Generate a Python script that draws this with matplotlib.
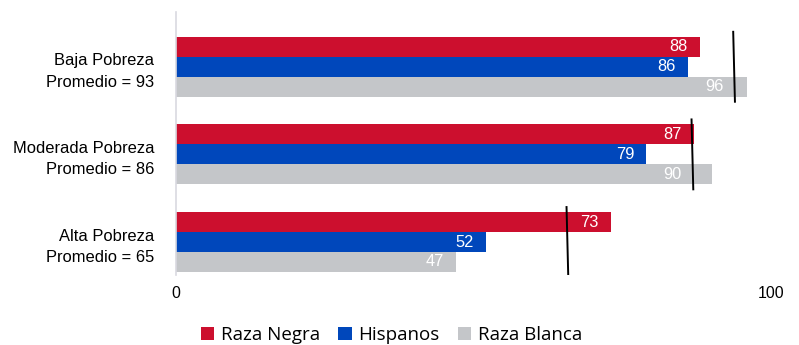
import numpy as np
import matplotlib
matplotlib.use('Agg')
from matplotlib import pyplot as plt
from matplotlib.patches import Patch

# data
groups = ['Baja Pobreza', 'Moderada Pobreza', 'Alta Pobreza']
promedio = [93, 86, 65]
series = ['Raza Negra', 'Hispanos', 'Raza Blanca']
raza_negra = [88, 87, 73]
hispanos = [86, 79, 52]
raza_blanca = [96, 90, 47]
colors = ['#CC0F2E', '#0047BB', '#C4C6C9']

plt.rcParams['font.family'] = ['Liberation Sans', 'DejaVu Sans']

fig = plt.figure(figsize=(7.99, 3.45), dpi=100)
ax = fig.add_axes([0.2203, 0.203, 0.745, 0.762])

y = np.arange(len(groups))
h = 0.228
values = [raza_negra, hispanos, raza_blanca]
for i, (vals, col) in enumerate(zip(values, colors)):
    yy = y + (i - 1) * h
    ax.barh(yy, vals, height=h, color=col, edgecolor='none')
    for v, yc, avg in zip(vals, yy, promedio):
        # keep the label clear of the average line
        right = v - 2.0
        if right - 3.6 < avg < right + 1.5:
            right = avg - 1.0
        ax.text(right, yc, str(v), color='white', ha='right', va='center',
                fontsize=11.8)

# average marks (hand-drawn, slightly slanted)
for yc, avg in zip(y, promedio):
    ax.plot([avg + 0.6, avg + 0.9], [yc - 0.41, yc + 0.41], color='black',
            lw=1.4, solid_capstyle='butt', zorder=5)

ax.set_xlim(0, 100)
ax.set_ylim(2.376, -0.624)
ax.set_xticks([0, 100])
ax.set_xticklabels(['0', '100'], fontsize=11.4)
ax.set_yticks(y)
ax.set_yticklabels([f'{g}\nPromedio = {p}' for g, p in zip(groups, promedio)],
                   fontsize=11.9, linespacing=1.55)
ax.tick_params(axis='x', length=0, pad=8)
ax.tick_params(axis='y', length=0, pad=15.5)
for s in ['top', 'right', 'bottom']:
    ax.spines[s].set_visible(False)
ax.spines['left'].set_color('#D9D9E0')
ax.spines['left'].set_linewidth(1.2)

handles = [Patch(facecolor=c, edgecolor='none') for c in colors]
fig.legend(handles, series, loc='center', bbox_to_anchor=(0.49, 0.028),
           ncol=3, frameon=False, handlelength=0.7, handleheight=0.7,
           handletextpad=0.35, columnspacing=1.0, borderpad=0,
           prop={'family': 'Open Sans', 'size': 13.5})

fig.savefig('out.png', dpi=100)
